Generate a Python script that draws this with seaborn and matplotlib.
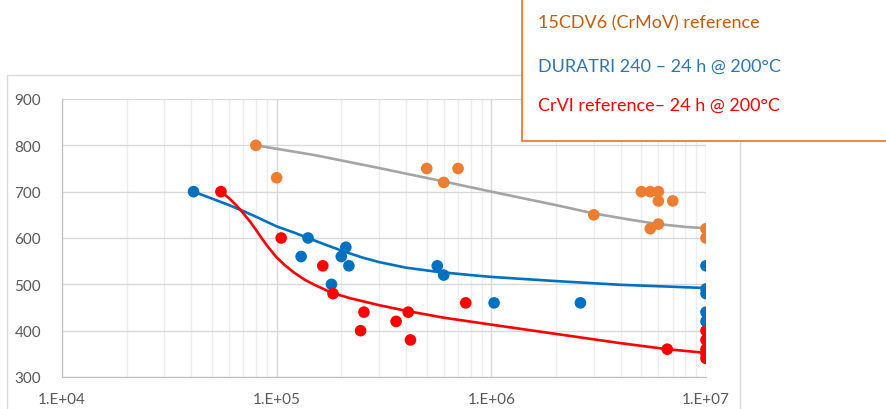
import numpy as np
import pandas as pd
import matplotlib
matplotlib.use("Agg")
import matplotlib.pyplot as plt
from matplotlib.patches import Rectangle
from matplotlib.ticker import LogLocator, FixedLocator
import seaborn as sns

# 15CDV6 (CrMoV) reference points
crmov_cycles = [8e4, 1e5, 5e5, 6e5, 7e5, 3e6, 5e6, 5.5e6, 6e6, 6e6, 7e6, 5.5e6, 6e6, 1e7, 1e7]
crmov_stress = [800, 730, 750, 720, 750, 650, 700, 700, 700, 680, 680, 620, 630, 620, 600]
# DURATRI 240 points
duratri_cycles = [4.1e4, 1.3e5, 1.4e5, 1.8e5, 2e5, 2.1e5, 2.17e5, 5.6e5, 6e5, 1.03e6, 2.6e6,
                  1e7, 1e7, 1e7, 1e7, 1e7]
duratri_stress = [700, 560, 600, 500, 560, 580, 540, 540, 520, 460, 460,
                  540, 490, 480, 440, 420]
# CrVI reference points
crvi_cycles = [5.5e4, 1.05e5, 1.64e5, 1.83e5, 2.55e5, 2.46e5, 3.6e5, 4.1e5, 4.2e5, 7.6e5, 6.6e6,
               1e7, 1e7, 1e7, 1e7, 1e7]
crvi_stress = [700, 600, 540, 480, 440, 400, 420, 440, 380, 460, 360,
               400, 380, 360, 350, 340]

# curves
crmov_curve_x = [8e4, 1.5e5, 3e5, 6e5, 1e6, 1.5e6, 2e6, 3e6, 4.5e6, 6e6, 8e6, 1e7]
crmov_curve_y = [800, 779, 751, 722, 700, 683, 671, 653, 639, 630, 624, 621]
duratri_curve_x = [4.1e4, 5e4, 6e4, 7e4, 8e4, 1e5, 1.2e5, 1.4e5, 1.7e5, 2e5, 2.5e5, 3e5, 4e5,
                   5.6e5, 8e5, 1e6, 2e6, 4e6, 1e7]
duratri_curve_y = [700, 685, 671, 658, 646, 625, 612, 600, 585, 573, 558, 548, 536,
                   527, 520, 516, 507, 499, 492]
crvi_curve_x = [5.5e4, 6e4, 6.5e4, 7e4, 7.5e4, 8e4, 8.5e4, 9e4, 1e5, 1.1e5, 1.2e5, 1.35e5,
                1.5e5, 1.8e5, 2.2e5, 3e5, 4.1e5, 6e5, 1e6, 2e6, 4e6, 6.6e6, 1e7]
crvi_curve_y = [700, 686, 670, 653, 636, 618, 600, 584, 558, 540, 526, 510,
                499, 482, 470, 455, 442, 428, 413, 393, 373, 360, 352]

orange = "#ED7D31"
blue = "#0070C0"
red = "#FF0000"
grey = "#A5A5A5"

sns.set_style("white")
plt.rcParams["font.family"] = ["Lato", "DejaVu Sans"]

fig = plt.figure(figsize=(8.86, 4.10), dpi=100)
# chart frame
fig.patches.append(Rectangle((7 / 886, -0.05), (740 - 7) / 886, (410 - 76) / 410 + 0.05,
                             transform=fig.transFigure, fill=False, edgecolor="#D9D9D9", lw=1))
ax = fig.add_axes([62 / 886, (410 - 378) / 410, (706 - 62) / 886, (378 - 100) / 410])

sns.lineplot(x=crmov_curve_x, y=crmov_curve_y, color=grey, lw=1.9, ax=ax, zorder=3)
sns.lineplot(x=duratri_curve_x, y=duratri_curve_y, color=blue, lw=1.9, ax=ax, zorder=3)
sns.lineplot(x=crvi_curve_x, y=crvi_curve_y, color=red, lw=1.9, ax=ax, zorder=3)

sns.scatterplot(x=crmov_cycles, y=crmov_stress, color=orange, s=70, edgecolor="none", ax=ax, zorder=4)
sns.scatterplot(x=duratri_cycles, y=duratri_stress, color=blue, s=70, edgecolor="none", ax=ax, zorder=4)
sns.scatterplot(x=crvi_cycles, y=crvi_stress, color=red, s=70, edgecolor="none", ax=ax, zorder=4)

ax.set_xscale("log")
ax.set_xlim(1e4, 1e7)
ax.set_ylim(300, 900)
ax.set_yticks([300, 400, 500, 600, 700, 800, 900])
ax.xaxis.set_major_locator(FixedLocator([1e4, 1e5, 1e6, 1e7]))
ax.xaxis.set_minor_locator(LogLocator(base=10, subs=np.arange(2, 10)))
ax.set_xticklabels(["1.E+04", "1.E+05", "1.E+06", "1.E+07"])
ax.xaxis.set_minor_formatter(plt.NullFormatter())
ax.grid(True, which="major", color="#D9D9D9", lw=1)
ax.grid(True, which="minor", axis="x", color="#EDEDED", lw=1)
ax.set_axisbelow(True)
for side in ["top", "right"]:
    ax.spines[side].set_visible(False)
for side in ["left", "bottom"]:
    ax.spines[side].set_color("#BFBFBF")
ax.tick_params(axis="both", which="both", length=0, colors="#595959", labelsize=11)
ax.tick_params(axis="y", pad=15)
ax.tick_params(axis="x", pad=11)

# legend box
fig.patches.append(Rectangle((522 / 886, (410 - 142) / 410), 0.5, 0.5,
                             transform=fig.transFigure, fill=True, facecolor="white",
                             edgecolor=orange, lw=1.3, zorder=5))
fig.text(538 / 886, 1 - 23 / 410, "15CDV6 (CrMoV) reference", color="#C55A11",
         fontsize=13, va="center", zorder=6)
fig.text(538 / 886, 1 - 67 / 410, "DURATRI 240 – 24 h @ 200°C", color="#2E75B6",
         fontsize=13, va="center", zorder=6)
fig.text(538 / 886, 1 - 106 / 410, "CrVI reference– 24 h @ 200°C", color=red,
         fontsize=13, va="center", zorder=6)

fig.savefig("out.png", dpi=100)
